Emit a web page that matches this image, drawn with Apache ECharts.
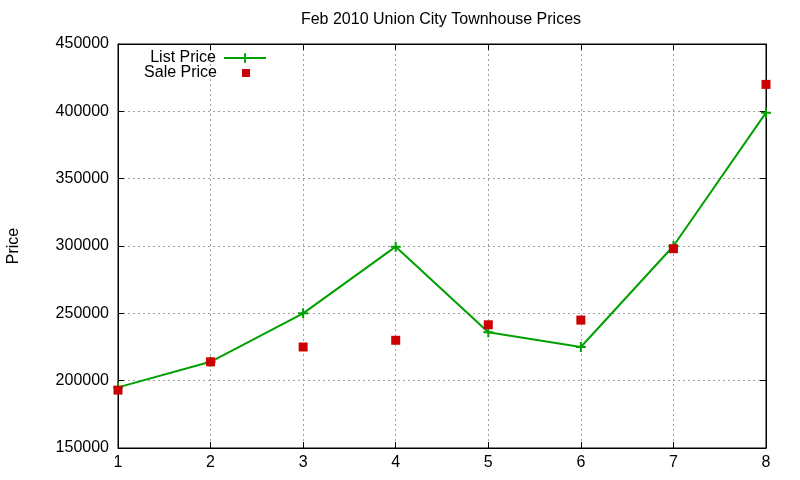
<!DOCTYPE html>
<html>
<head>
<meta charset="utf-8">
<script src="https://cdn.jsdelivr.net/npm/echarts@6/dist/echarts.min.js"></script>
<style>html,body{margin:0;padding:0;background:#fff}#c{width:800px;height:480px}</style>
</head>
<body>
<div id="c"></div>
<script>
var categories = [1, 2, 3, 4, 5, 6, 7, 8];
var listPrice = [195000, 214000, 250000, 299500, 236000, 225000, 300000, 399000];
var salePrice = [193000, 214000, 225000, 230000, 241500, 245000, 298000, 420000];
var yTicks = [150000, 200000, 250000, 300000, 350000, 400000, 450000];

var chart = echarts.init(document.getElementById('c'), null, {renderer: 'canvas'});
var font = 'Liberation Sans, Arial, sans-serif';
var plus = 'path://M4,0H6V4H10V6H6V10H4V6H0V4H4Z';
var gridLine = {show: true, lineStyle: {color: '#a0a0a0', type: [2, 3], width: 1}};
var hidden = {show: false};
chart.setOption({
  animation: false,
  backgroundColor: '#fff',
  textStyle: {fontFamily: font},
  title: {
    text: 'Feb 2010 Union City Townhouse Prices',
    left: 441, top: 12, textAlign: 'center', padding: 0,
    textStyle: {fontSize: 16, fontWeight: 'normal', color: '#000', fontFamily: font}
  },
  legend: [{
    data: ['List Price'], orient: 'vertical', align: 'right', padding: 0,
    right: 533, top: 50, itemWidth: 42, itemHeight: 12,
    textStyle: {fontSize: 16, color: '#000', fontFamily: font, padding: [0, 3, 0, 0]}
  }, {
    data: ['Sale Price'], orient: 'vertical', align: 'right', padding: 0,
    right: 550, top: 65, itemWidth: 8, itemHeight: 8,
    textStyle: {fontSize: 16, color: '#000', fontFamily: font, padding: [0, 20, 0, 0]}
  }],
  grid: {left: 118, right: 34, top: 44, bottom: 32, outerBoundsMode: 'none', containLabel: false,
    show: true, borderColor: '#000', borderWidth: 1, backgroundColor: 'transparent'},
  xAxis: [{
    type: 'value', min: 1, max: 8, interval: 1,
    axisLine: {show: true, lineStyle: {color: '#000'}},
    axisTick: {show: true, inside: true, length: 6, lineStyle: {color: '#000'}},
    axisLabel: {fontSize: 16, color: '#000', margin: 7, fontFamily: font},
    splitLine: gridLine
  }, {
    type: 'value', position: 'top', min: 1, max: 8, interval: 1,
    axisLine: {show: true, lineStyle: {color: '#000'}},
    axisTick: {show: true, inside: true, length: 6, lineStyle: {color: '#000'}},
    axisLabel: hidden, splitLine: hidden
  }],
  yAxis: [{
    type: 'value', min: yTicks[0], max: yTicks[yTicks.length - 1], interval: 50000,
    name: 'Price', nameLocation: 'middle', nameGap: 96, nameRotate: 90,
    nameTextStyle: {fontSize: 16, color: '#000', fontFamily: font},
    axisLine: {show: true, lineStyle: {color: '#000'}},
    axisTick: {show: true, inside: true, length: 6, lineStyle: {color: '#000'}},
    axisLabel: {fontSize: 16, color: '#000', margin: 9, fontFamily: font, formatter: function (v) { return String(v); }},
    splitLine: gridLine
  }, {
    type: 'value', position: 'right', min: yTicks[0], max: yTicks[yTicks.length - 1], interval: 50000,
    axisLine: {show: true, lineStyle: {color: '#000'}},
    axisTick: {show: true, inside: true, length: 6, lineStyle: {color: '#000'}},
    axisLabel: hidden, splitLine: hidden
  }],
  series: [{
    name: 'List Price', type: 'line',
    data: categories.map(function (c, i) { return [c, listPrice[i]]; }),
    symbol: plus, symbolSize: 10, showAllSymbol: true,
    lineStyle: {color: '#00a000', width: 2},
    itemStyle: {color: '#00a000'},
    z: 3
  }, {
    name: 'Sale Price', type: 'scatter',
    data: categories.map(function (c, i) { return [c, salePrice[i]]; }),
    symbol: 'rect', symbolSize: 9,
    itemStyle: {color: '#cc0000', opacity: 1},
    z: 4
  }]
});
</script>
</body>
</html>
